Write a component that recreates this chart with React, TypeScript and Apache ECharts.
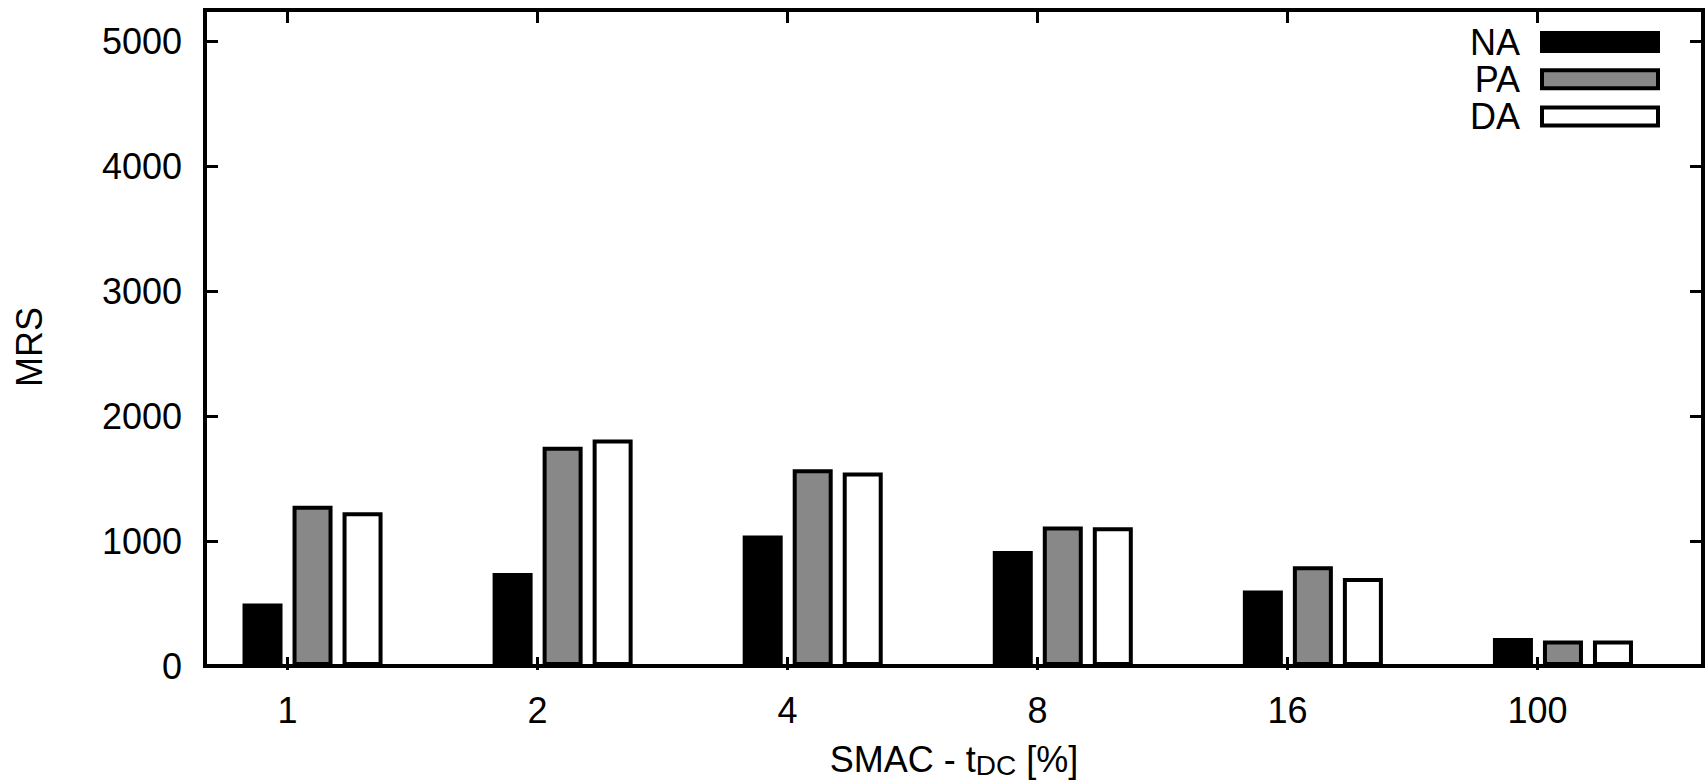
import React, { useEffect, useRef } from 'react';
import * as echarts from 'echarts';

const categories = ['1', '2', '4', '8', '16', '100'];
const seriesNames = ['NA', 'PA', 'DA'];
const naValues = [500, 745, 1045, 920, 605, 225];
const paValues = [1283, 1755, 1575, 1116, 798, 204];
const daValues = [1230, 1813, 1548, 1111, 705, 204];

const FONT = '"Liberation Sans", Arial, Helvetica, sans-serif';

export default function App() {
  const ref = useRef<HTMLDivElement>(null);
  useEffect(() => {
    const chart = echarts.init(ref.current as HTMLDivElement, null, { renderer: 'svg' });
    const values = [naValues, paValues, daValues];
    const fills = ['#000000', '#888888', '#ffffff'];
    const offsets = [-0.1, 0.1, 0.3];
    const series = seriesNames.map((name, s) => ({
      name,
      type: 'bar',
      xAxisIndex: 0,
      yAxisIndex: 0,
      barWidth: 40,
      barGap: '-100%',
      silent: true,
      itemStyle: { color: fills[s], borderColor: '#000', borderWidth: 4 },
      data: values[s].map((v, i) => [i + offsets[s], v]),
    }));
    const tickStyle = { color: '#000', width: 3 };
    const noLine = { show: false, onZero: false };
    chart.setOption({
      animation: false,
      textStyle: { fontFamily: FONT },
      grid: [
        { left: 205, top: 10, width: 1498, height: 660, show: true, borderColor: '#000', borderWidth: 4, backgroundColor: 'transparent' },
        { left: 162.5, top: 10, width: 1500, height: 660, show: false },
      ],
      xAxis: [
        {
          type: 'value', gridIndex: 0, min: -0.33, max: 5.66,
          axisLine: noLine, axisTick: { show: false }, axisLabel: { show: false }, splitLine: { show: false },
          name: '{a|SMAC - t}{b|DC}{a| [%]}',
          nameLocation: 'middle', nameGap: 75,
          nameTextStyle: {
            color: '#000', fontSize: 36, fontFamily: FONT,
            rich: {
              a: { fontSize: 36, lineHeight: 36, verticalAlign: 'top', fontFamily: FONT, color: '#000' },
              b: { fontSize: 28, lineHeight: 38, verticalAlign: 'bottom', fontFamily: FONT, color: '#000' },
            },
          },
        },
        {
          type: 'category', gridIndex: 1, position: 'bottom', data: categories, boundaryGap: true,
          axisLine: noLine,
          axisTick: { show: true, inside: true, alignWithLabel: true, length: 13, lineStyle: tickStyle },
          axisLabel: { fontSize: 36, color: '#000', margin: 22, fontFamily: FONT },
          splitLine: { show: false },
        },
        {
          type: 'category', gridIndex: 1, position: 'top', data: categories, boundaryGap: true,
          axisLine: noLine,
          axisTick: { show: true, inside: true, alignWithLabel: true, length: 13, lineStyle: tickStyle },
          axisLabel: { show: false },
          splitLine: { show: false },
        },
      ],
      yAxis: [
        {
          type: 'value', gridIndex: 0, position: 'left', min: 0, max: 5250, interval: 1000,
          axisLine: noLine,
          axisTick: { show: true, inside: true, length: 13, lineStyle: tickStyle },
          axisLabel: {
            fontSize: 36, color: '#000', margin: 23, fontFamily: FONT,
            formatter: (v: number) => (v % 1000 === 0 ? String(v) : ''),
          },
          splitLine: { show: false },
        },
        {
          type: 'value', gridIndex: 0, position: 'right', min: 0, max: 5250, interval: 1000,
          axisLine: noLine,
          axisTick: { show: true, inside: true, length: 13, lineStyle: tickStyle },
          axisLabel: { show: false },
          splitLine: { show: false },
        },
        { type: 'value', gridIndex: 1, min: 0, max: 5250, show: false, axisLine: noLine },
      ],
      legend: {
        data: seriesNames,
        orient: 'vertical',
        align: 'right',
        right: 45,
        top: 24,
        padding: 0,
        itemWidth: 116,
        itemHeight: 18,
        itemGap: 1.2,
        icon: 'rect',
        selectedMode: false,
        itemStyle: { borderWidth: 4, borderColor: '#000' },
        textStyle: { fontSize: 36, color: '#000', fontFamily: FONT, padding: [0, 17, 0, 0] },
      },
      graphic: [
        {
          type: 'text', x: 29, y: 347, rotation: Math.PI / 2,
          style: { text: 'MRS', fontSize: 36, fontFamily: FONT, fill: '#000', align: 'center', verticalAlign: 'middle' },
        },
      ],
      series,
    });
    return () => chart.dispose();
  }, []);
  return <div ref={ref} style={{ position: 'absolute', left: 0, top: 0, width: 1705, height: 784 }} />;
}
